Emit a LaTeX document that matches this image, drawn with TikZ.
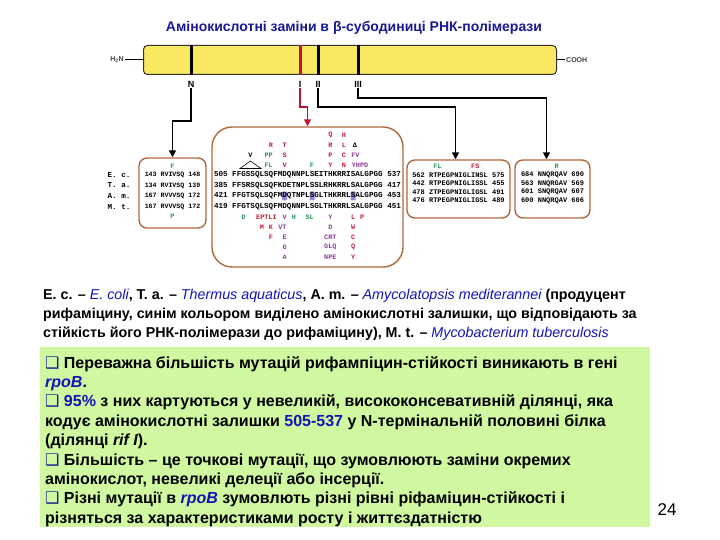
\documentclass[tikz,border=0pt]{standalone}
\usepackage{fontspec}
\setmainfont{Liberation Sans}
\newfontfamily\seqfont{Liberation Mono}
\newfontfamily\dejavu{DejaVu Sans}
\usepackage{tikz}
\usetikzlibrary{arrows.meta,positioning}
\definecolor{titleblue}{RGB}{25,25,150}
\definecolor{namblue}{RGB}{20,20,180}
\definecolor{barfill}{RGB}{250,232,96}
\definecolor{boxbrown}{RGB}{178,104,62}
\definecolor{mutred}{RGB}{190,30,60}
\definecolor{mutgreen}{RGB}{40,150,90}
\definecolor{mutpurple}{RGB}{140,60,150}
\definecolor{hlblue}{RGB}{110,100,200}
\definecolor{panelgreen}{RGB}{208,248,160}
\definecolor{arrowred}{RGB}{190,20,50}
\newcommand{\chk}{{\dejavu\color{titleblue}❑}}

\begin{document}
\begin{tikzpicture}[x=1pt,y=-1pt,
  title/.style={font=\fontsize{14}{16}\selectfont\bfseries,text=titleblue},
  prot/.style={draw=black!80,line width=1pt,fill=barfill,rounded corners=4pt,
               minimum width=413pt,minimum height=29pt,inner sep=0pt},
  term/.style={font=\fontsize{7}{8}\selectfont\bfseries,text=black!75,inner sep=1pt},
  site/.style={font=\fontsize{9}{10}\selectfont\bfseries,inner sep=1pt},
  stripe/.style={line width=3pt},
  conn/.style={-{Triangle[length=7pt,width=7pt]},line width=1.6pt},
  seqbox/.style={draw=boxbrown,line width=1.4pt,fill=white,rounded corners=8pt,inner sep=0pt},
  row/.style={font=\fontsize{7.6}{8}\seqfont\bfseries,inner sep=0pt},
  rowN/.style={font=\fontsize{6.6}{8}\seqfont\bfseries,inner sep=0pt},
  rows/.style={font=\fontsize{7}{8}\seqfont\bfseries,inner sep=0pt},
  mut/.style={font=\fontsize{6.8}{8}\seqfont\bfseries,inner sep=0pt},
  hl/.style={fill=hlblue,opacity=0.75,rounded corners=1pt,minimum width=5pt,
             minimum height=9pt,inner sep=0pt},
  capt/.style={font=\fontsize{14.3}{19}\selectfont\bfseries,align=left,inner sep=0pt},
  panel/.style={fill=panelgreen,minimum width=610pt,minimum height=180pt,inner sep=0pt},
  body/.style={font=\fontsize{16}{19.4}\selectfont\bfseries,align=left,inner sep=0pt},
]
\useasboundingbox (0,0) rectangle (720,540);
\fill[white] (0,0) rectangle (720,540);

% protein bar
\node[title] (ttl) at (354,28) {Амінокислотні заміни в β-субодиниці РНК-полімерази};
\node[prot] (bar) at (350,60) {};
\node[term, left=18pt of bar]  (h2n)  {H\textsubscript{2}N};
\node[term, right=8pt of bar]  (cooh) {COOH};
\draw[line width=1pt] (h2n) -- (bar);
\draw[line width=1pt] (bar) -- (cooh);

\node[site] (sN)   at (191,84) {N};
\node[site] (sI)   at (300,84) {I};
\node[site] (sII)  at (318,84) {II};
\node[site] (sIII) at (358,84) {III};
\draw[stripe]          (sN |- bar.north)   -- (sN |- bar.south);
\draw[stripe,arrowred] (sI |- bar.north)   -- (sI |- bar.south);
\draw[stripe]          (sII |- bar.north)  -- (sII |- bar.south);
\draw[stripe]          (sIII |- bar.north) -- (sIII |- bar.south);

% sequence boxes
\node[seqbox,minimum width=67pt,minimum height=70pt] (boxN) at (172.5,193) {};
\node[seqbox,minimum width=191pt,minimum height=140pt,rounded corners=20pt] (boxI) at (307.5,197) {};
\node[seqbox,minimum width=103pt,minimum height=58pt] (boxII) at (458.5,189) {};
\node[seqbox,minimum width=75pt,minimum height=58pt] (boxIII) at (552.5,189) {};

\draw[conn]          (sN.south)   -- ++(0,33) -| (boxN.north);
\draw[conn,arrowred] (sI.south)   -- ++(0,19) -| (boxI.north);
\draw[conn]          (sII.south)  -- ++(0,19) -| ([xshift=-3pt]boxII.north);
\draw[conn]          (sIII.south) -- ++(0,10) -| ([xshift=-6pt]boxIII.north);

% species and rows
\foreach \sp/\y [count=\k] in {E. c./175, T. a./185.5, A. m./196, M. t./206.5}
  \node[row] (sp\k) at (119,\y) {\sp};
\foreach \t/\y [count=\k] in {143 RVIVSQ 148/175, 134 RVIVSQ 139/185.5,
                              167 RVVVSQ 172/196, 167 RVVVSQ 172/206.5}
  \node[rowN] (nr\k) at (172.5,\y) {\t};
\node[mut,text=mutgreen] (nF) at (172.5,166) {F};
\node[mut,text=mutgreen] (nP) at (172.5,216) {P};

\foreach \x [count=\k] in {284.7,312.0,353.1}
  \node[hl] (hl\k) at (\x,196) {};
\foreach \t/\y [count=\k] in {505 FFGSSQLSQFMDQNNPLSEITHKRRISALGPGG 537/175,
                              385 FFSRSQLSQFKDETNPLSSLRHKRRLSALGPGG 417/185.5,
                              421 FFGTSQLSQFMDQTNPLSGLTHKRRLSALGPGG 453/196,
                              419 FFGTSQLSQFMDQNNPLSGLTHKRRLSALGPGG 451/206.5}
  \node[row] (br\k) at (307.5,\y) {\t};

% substitutions
\foreach \x/\y/\t/\c [count=\k] in {
  330.3/135/Q/mutred, 344/135/H/mutred,
  271/145/R/mutred, 284.7/145/T/mutred, 330.3/145/R/mutred, 344/145/L/mutred, 355/145/Δ/black,
  250.4/155/V/black, 268.7/155/PP/mutgreen, 284.7/155/S/mutred, 330.3/155/P/mutred,
  344/155/C/mutred, 355.4/155/FV/mutpurple,
  268.7/165/FL/mutgreen, 284.7/165/V/mutred, 312/165/F/mutgreen, 330.3/165/Y/mutred,
  344/165/N/mutred, 360/165/YHPD/mutpurple,
  243.6/217/D/mutgreen, 266.4/217/EPTLI/mutred, 284.7/217/V/mutpurple, 293.8/217/H/mutgreen,
  309.7/217/SL/mutgreen, 330.3/217/Y/mutpurple, 353.1/217/L/mutred, 362.2/217/P/mutred,
  261.9/227/M/mutred, 271/227/K/mutred, 282.4/227/VT/mutpurple, 330.3/227/D/mutpurple,
  353.1/227/W/mutred,
  271/237/F/mutred, 284.7/237/E/mutpurple, 330.3/237/CRT/mutpurple, 353.1/237/C/mutred,
  284.7/247/G/mutpurple, 330.3/247/GLQ/mutpurple, 353.1/247/Q/mutred,
  284.7/257/A/mutpurple, 330.3/257/NPE/mutpurple, 353.1/257/Y/mutred}
  \node[mut,text=\c] (m\k) at (\x,\y) {\t};
\draw[line width=0.6pt] (240,168.5) -- (250.4,161) -- (261,168.5) -- cycle;

% clusters II and III
\foreach \t/\y [count=\k] in {562 RTPEGPNIGLINSL 575/175, 442 RTPEGPNIGLISSL 455/183.5,
                              478 ZTPEGPNIGLIGSL 491/192, 476 RTPEGPNIGLIGSL 489/200.5}
  \node[rows] (r2\k) at (458.5,\y) {\t};
\node[mut,text=mutgreen] (h2a) at (437.5,166) {FL};
\node[mut,text=mutred]   (h2b) at (475.3,166) {FS};
\foreach \t/\y [count=\k] in {684 NNQRQAV 690/175, 563 NNQRGAV 569/183.5,
                              601 SNQRQAV 607/192, 600 NNQRQAV 606/200.5}
  \node[rows] (r3\k) at (552.5,\y) {\t};
\node[mut,text=mutgreen] (h3) at (556.7,166) {R};

% caption
\node[capt,anchor=north west] (capt) at (43,288.5) {%
E. c. -- {\mdseries\itshape\color{namblue}E. coli}, T. a. -- {\mdseries\itshape\color{namblue}Thermus aquaticus}, A. m. -- {\mdseries\itshape\color{namblue}Amycolatopsis mediterannei} (продуцент\\
рифаміцину, синім кольором виділено амінокислотні залишки, що відповідають за\\
стійкість його РНК-полімерази до рифаміцину), M. t. -- {\mdseries\itshape\color{namblue}Mycobacterium tuberculosis}};

% notes
\node[panel,anchor=north west] (panel) at (40,347) {};
\node[body,anchor=north west] (body) at (45,356) {%
\chk{} Переважна більшість мутацій рифампіцин-стійкості виникають в гені\\
{\color{namblue}\itshape rpoB}.\\
\chk{} {\color{namblue}95\%} з них картуються у невеликій, висококонсевативній ділянці, яка\\
кодує амінокислотні залишки {\color{namblue}505-537} у N-термінальній половині білка\\
(ділянці {\itshape rif I}).\\
\chk{} Більшість -- це точкові мутації, що зумовлюють заміни окремих\\
амінокислот, невеликі делеції або інсерції.\\
\chk{} Різні мутації в {\color{namblue}\itshape rpoB} зумовлють різні рівні ріфаміцин-стійкості і\\
різняться за характеристиками росту і життєздатністю};
\node[font=\fontsize{17}{17}\selectfont] (pg) at (667,510) {24};
\end{tikzpicture}
\end{document}
